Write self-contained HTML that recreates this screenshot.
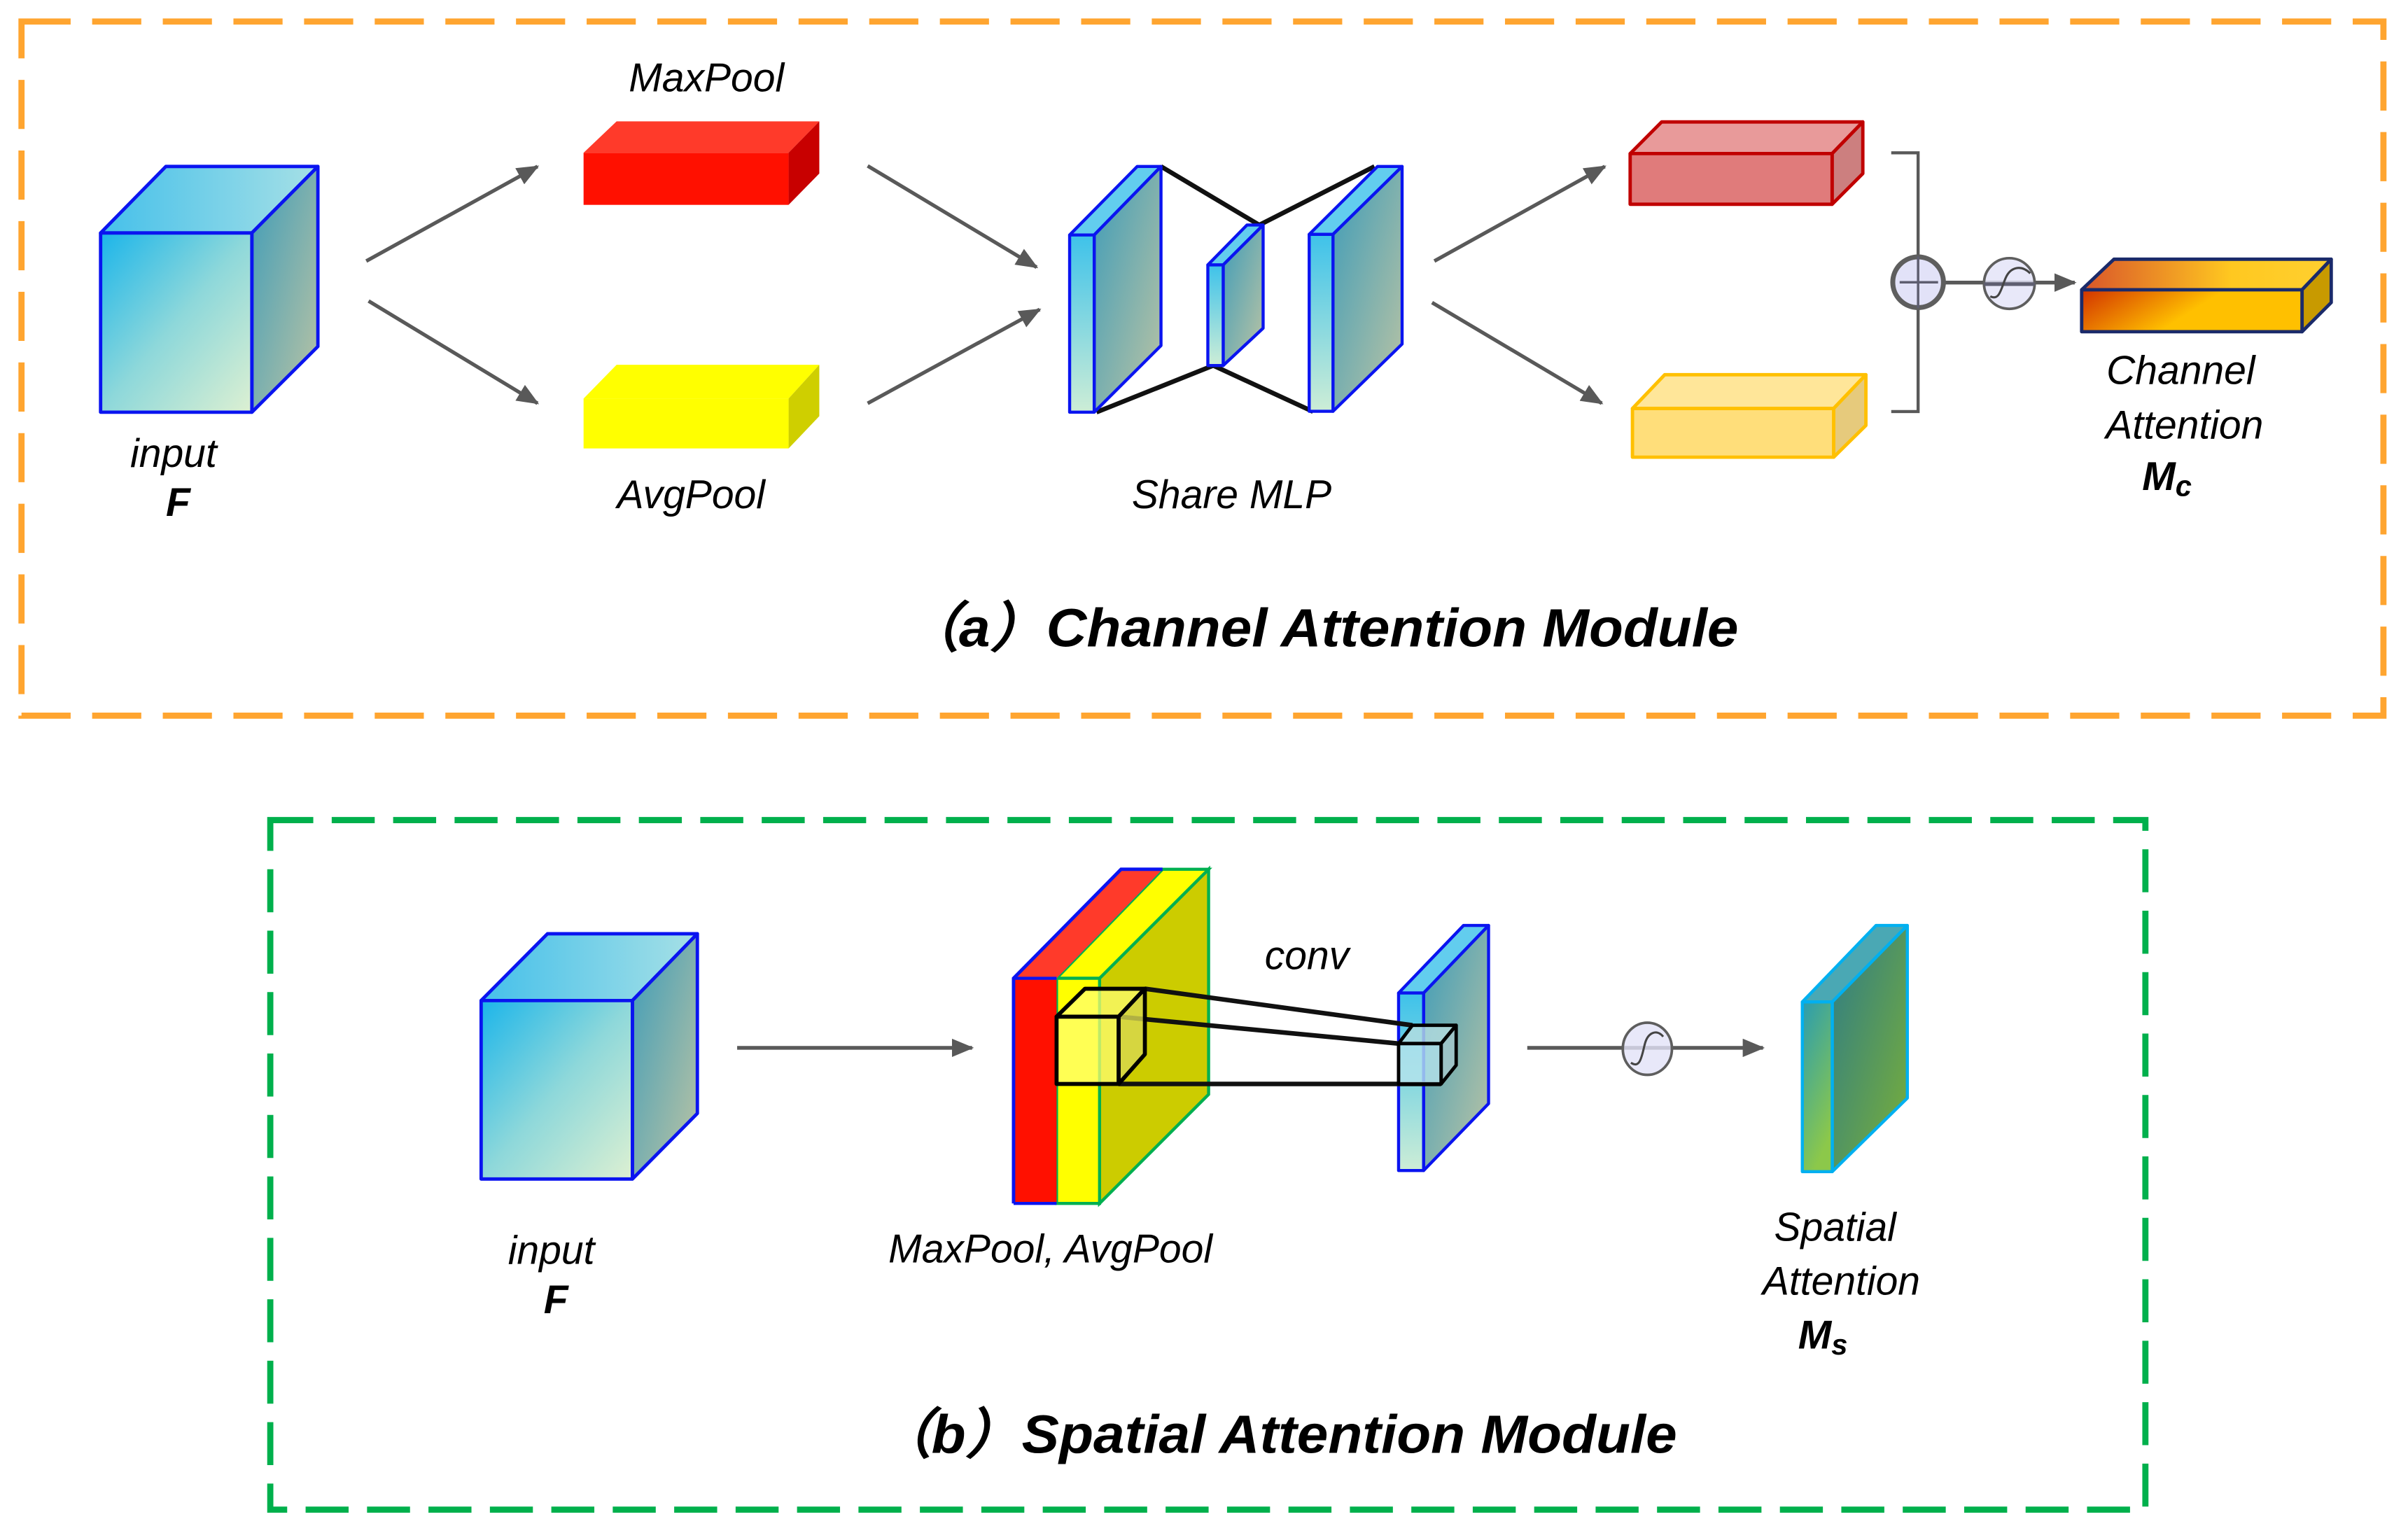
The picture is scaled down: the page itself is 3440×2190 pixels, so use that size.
<!DOCTYPE html>
<html><head><meta charset="utf-8"><style>
html,body{margin:0;padding:0;background:#fff;}
svg{display:block;}
text{font-family:"Liberation Sans",Arial,sans-serif;font-style:italic;fill:#000;}
</style></head><body>
<svg width="3440" height="2190" viewBox="0 0 1568 998.2" preserveAspectRatio="none" xmlns="http://www.w3.org/2000/svg">
<defs>
<linearGradient id="cf" x1="0" y1="0" x2="1" y2="1"><stop offset="0" stop-color="#1BB5EA"/><stop offset="0.5" stop-color="#8ED8DA"/><stop offset="1" stop-color="#DDF0D2"/></linearGradient>
<linearGradient id="ct" x1="0" y1="0" x2="1" y2="0"><stop offset="0" stop-color="#45C0EA"/><stop offset="1" stop-color="#A6E0E6"/></linearGradient>
<linearGradient id="cs" x1="0" y1="0" x2="1" y2="1"><stop offset="0" stop-color="#3E9CB8"/><stop offset="1" stop-color="#BCC4A4"/></linearGradient>
<linearGradient id="pf" x1="0" y1="0" x2="0" y2="1"><stop offset="0" stop-color="#3EC2EA"/><stop offset="1" stop-color="#CDEDD6"/></linearGradient>
<linearGradient id="mf" x1="0" y1="0" x2="1" y2="0.3"><stop offset="0" stop-color="#D23200"/><stop offset="0.6" stop-color="#FFC000"/><stop offset="1" stop-color="#FFC000"/></linearGradient>
<linearGradient id="mt" x1="0" y1="0" x2="1" y2="0"><stop offset="0" stop-color="#D9552A"/><stop offset="0.6" stop-color="#FFC820"/><stop offset="1" stop-color="#FFD030"/></linearGradient>
<linearGradient id="sf" x1="0" y1="0" x2="0.4" y2="1"><stop offset="0" stop-color="#2A9CB0"/><stop offset="1" stop-color="#8CC84A"/></linearGradient>
<linearGradient id="ss" x1="0" y1="0" x2="1" y2="1"><stop offset="0" stop-color="#2E7C86"/><stop offset="1" stop-color="#7AB038"/></linearGradient>
<marker id="ar" markerWidth="6" markerHeight="5" refX="5.5" refY="2.5" orient="auto" markerUnits="strokeWidth"><path d="M0,0 L6,2.5 L0,5 Z" fill="#595959"/></marker>
</defs>

<!-- borders -->
<rect x="14" y="14" width="1538" height="452" fill="none" stroke="#FFA530" stroke-width="4" stroke-dasharray="32,14"/>
<rect x="176" y="534" width="1221" height="449" fill="none" stroke="#00B04C" stroke-width="4" stroke-dasharray="28,12"/>

<!-- (a) input cube -->
<g stroke="#0A14F0" stroke-width="2.2" stroke-linejoin="round">
<polygon points="65.5,151.7 108,108.4 207,108.4 164,151.7" fill="url(#ct)"/>
<polygon points="164,151.7 207,108.4 207,225.6 164,268.4" fill="url(#cs)"/>
<rect x="65.5" y="151.7" width="98.5" height="116.7" fill="url(#cf)"/>
</g>
<text x="113" y="304" font-size="26" text-anchor="middle">input</text>
<text x="116" y="336" font-size="26" font-weight="bold" text-anchor="middle">F</text>

<g stroke="#595959" stroke-width="2.4" fill="none" marker-end="url(#ar)">
<line x1="238.5" y1="170" x2="350" y2="108.4"/>
<line x1="240" y1="196" x2="350" y2="262.6"/>
<line x1="565" y1="108" x2="675" y2="174"/>
<line x1="565" y1="262.6" x2="677" y2="201.5"/>
<line x1="934" y1="170" x2="1045" y2="108.4"/>
<line x1="932.5" y1="197" x2="1043" y2="262.6"/>
</g>

<!-- red box -->
<polygon points="380,99.5 401.5,79 533.5,79 513.5,99.5" fill="#FF3A2A"/>
<polygon points="513.5,99.5 533.5,79 533.5,113 513.5,133.4" fill="#C80000"/>
<rect x="380" y="99.5" width="133.5" height="33.9" fill="#FF1000"/>
<text x="460" y="59.5" font-size="26" text-anchor="middle">MaxPool</text>
<!-- yellow box -->
<polygon points="380,259.5 401.5,237.5 533.5,237.5 513.5,259.5" fill="#FFFF00"/>
<polygon points="513.5,259.5 533.5,237.5 533.5,271 513.5,292" fill="#CFCF00"/>
<rect x="380" y="259.5" width="133.5" height="32.5" fill="#FFFF00"/>
<text x="450" y="331" font-size="26" text-anchor="middle">AvgPool</text>

<!-- share MLP -->
<g stroke="#111" stroke-width="3">
<line x1="756" y1="108.4" x2="820" y2="146.5"/>
<line x1="820" y1="146.5" x2="895" y2="108.4"/>
<line x1="714" y1="268.4" x2="790" y2="238"/>
<line x1="790" y1="238" x2="855" y2="268"/>
</g>
<g stroke="#0A14F0" stroke-width="2" stroke-linejoin="round">
<polygon points="696.5,153 740.5,108.4 756,108.4 712.5,153" fill="#62CDEE"/>
<polygon points="712.5,153 756,108.4 756,225 712.5,268.4" fill="url(#cs)"/>
<rect x="696.5" y="153" width="16" height="115.4" fill="url(#pf)"/>
<polygon points="786.5,172.5 812,146.5 822.5,146.5 796.5,172.5" fill="#62CDEE"/>
<polygon points="796.5,172.5 822.5,146.5 822.5,213.7 796.5,238" fill="url(#cs)"/>
<rect x="786.5" y="172.5" width="10" height="65.5" fill="url(#pf)"/>
<polygon points="852.5,152.6 897,108.4 913,108.4 868,152.6" fill="#62CDEE"/>
<polygon points="868,152.6 913,108.4 913,224 868,267.8" fill="url(#cs)"/>
<rect x="852.5" y="152.6" width="15.5" height="115.2" fill="url(#pf)"/>
</g>
<text x="802" y="331" font-size="26" text-anchor="middle">Share MLP</text>

<!-- pink box -->
<g stroke="#C00000" stroke-width="2.2" stroke-linejoin="round">
<polygon points="1061.5,100 1082,79.4 1213,79.4 1193,100" fill="#E89A9A"/>
<polygon points="1193,100 1213,79.4 1213,113 1193,133" fill="#CC7F7F"/>
<rect x="1061.5" y="100" width="131.5" height="33" fill="#E07B7B"/>
</g>
<g stroke="#FFC000" stroke-width="2.2" stroke-linejoin="round">
<polygon points="1063,266 1084,244 1215,244 1194,266" fill="#FFE699"/>
<polygon points="1194,266 1215,244 1215,277 1194,297.7" fill="#E6CA7C"/>
<rect x="1063" y="266" width="131" height="31.7" fill="#FFDE7A"/>
</g>
<!-- bracket -->
<polyline points="1231.5,99.5 1249,99.5 1249,268 1231.5,268" fill="none" stroke="#595959" stroke-width="2"/>
<line x1="1266" y1="184" x2="1351" y2="184" stroke="#595959" stroke-width="2.4" marker-end="url(#ar)"/>
<circle cx="1249" cy="183.8" r="16.5" fill="#E2E2F8" stroke="#5E5E5E" stroke-width="3.2"/>
<line x1="1249" y1="167" x2="1249" y2="200.5" stroke="#5E5E70" stroke-width="1.6"/>
<line x1="1237" y1="183.8" x2="1262" y2="183.8" stroke="#5E5E70" stroke-width="1.6"/>
<circle cx="1308.4" cy="184.6" r="16.5" fill="#E2E2F8" fill-opacity="0.8" stroke="#5E5E5E" stroke-width="1.7"/>
<line x1="1292" y1="185" x2="1325" y2="185" stroke="#5E5E70" stroke-width="2.4"/>
<path d="M1296,193 C1302,196 1303,188 1306,181 C1309,174 1316,172 1322,178" fill="none" stroke="#444" stroke-width="1.4"/>

<!-- Mc box -->
<g stroke="#1A2A6A" stroke-width="2.2" stroke-linejoin="round">
<polygon points="1355.5,188.7 1376.5,168.8 1518,168.8 1499,188.7" fill="url(#mt)"/>
<polygon points="1499,188.7 1518,168.8 1518,197 1499,216" fill="#C89A00"/>
<rect x="1355.5" y="188.7" width="143.5" height="27.3" fill="url(#mf)"/>
</g>
<text x="1420" y="250" font-size="26" text-anchor="middle">Channel</text>
<text x="1422.5" y="285.5" font-size="26" text-anchor="middle">Attention</text>
<text x="1411" y="319" font-size="26" font-weight="bold" text-anchor="middle">M<tspan font-size="19" dy="4">c</tspan></text>

<text x="588" y="421" font-size="35" font-weight="bold" textLength="544" lengthAdjust="spacingAndGlyphs">（a）Channel Attention Module</text>

<!-- (b) input cube -->
<g stroke="#0A14F0" stroke-width="2.2" stroke-linejoin="round">
<polygon points="313.3,651.5 356.5,608 454.1,608 411.8,651.5" fill="url(#ct)"/>
<polygon points="411.8,651.5 454.1,608 454.1,725 411.8,767.7" fill="url(#cs)"/>
<rect x="313.3" y="651.5" width="98.5" height="116.2" fill="url(#cf)"/>
</g>
<text x="359" y="823" font-size="26" text-anchor="middle">input</text>
<text x="362" y="855" font-size="26" font-weight="bold" text-anchor="middle">F</text>
<line x1="480" y1="682.3" x2="633" y2="682.3" stroke="#595959" stroke-width="2.4" marker-end="url(#ar)"/>

<!-- stacked layers -->
<polygon points="716,637 787,566 787,712.6 716,783.6" fill="#CCCC00" stroke="#00B050" stroke-width="2"/>
<polygon points="688,637 757,566 787,566 716,637" fill="#FFFF00" stroke="#00B050" stroke-width="2"/>
<rect x="688" y="637" width="28" height="146.6" fill="#FFFF00" stroke="#00B050" stroke-width="2"/>
<polygon points="660,637 730,566 757,566 688,637" fill="#FF3A2A"/>
<polyline points="660,783.6 660,637 730,566 757,566" fill="none" stroke="#0A14F0" stroke-width="2.2"/>
<rect x="660" y="637" width="28" height="146.6" fill="#FF1000"/>
<line x1="660" y1="637" x2="688" y2="637" stroke="#0A14F0" stroke-width="2"/>
<line x1="660" y1="783.6" x2="688" y2="783.6" stroke="#0A14F0" stroke-width="2"/>
<polyline points="660,783.6 660,637" fill="none" stroke="#0A14F0" stroke-width="2.2"/>

<!-- conv plate -->
<g stroke="#0A14F0" stroke-width="2" stroke-linejoin="round">
<polygon points="910.7,646.6 953,602.6 969.3,602.6 927,646.6" fill="#62CDEE"/>
<polygon points="927,646.6 969.3,602.6 969.3,718.6 927,762.2" fill="url(#cs)"/>
<rect x="910.7" y="646.6" width="16.3" height="115.6" fill="url(#pf)"/>
</g>
<!-- connecting lines -->
<g stroke="#111" stroke-width="3" fill="none">
<line x1="745.5" y1="643.8" x2="919.7" y2="667.6"/>
<line x1="728.4" y1="662" x2="910.7" y2="679.5"/>
<line x1="728.4" y1="705.8" x2="938.4" y2="705.8"/>
</g>
<!-- small cube in stack -->
<g stroke="#000" stroke-width="2.6" stroke-linejoin="round">
<polygon points="688,662 706.5,643.8 745.5,643.8 728.4,662" fill="#FFFF70" fill-opacity="0.75"/>
<polygon points="728.4,662 745.5,643.8 745.5,686.5 728.4,705.8" fill="#D8D850" fill-opacity="0.8"/>
<rect x="688" y="662" width="40.4" height="43.8" fill="#FFFF70" fill-opacity="0.75"/>
</g>
<!-- small cube on conv -->
<g stroke="#000" stroke-width="2.2" stroke-linejoin="round">
<polygon points="910.7,679.5 919.7,667.6 948.2,667.6 938.4,679.5" fill="#B6DDE0" fill-opacity="0.8"/>
<polygon points="938.4,679.5 948.2,667.6 948.2,693.6 938.4,705.8" fill="#A6C8CC" fill-opacity="0.8"/>
<rect x="910.7" y="679.5" width="27.7" height="26.3" fill="#B6E4EC" fill-opacity="0.8"/>
</g>
<text x="851" y="631" font-size="26" text-anchor="middle">conv</text>
<text x="684" y="822" font-size="26" text-anchor="middle">MaxPool, AvgPool</text>

<line x1="994.5" y1="682.3" x2="1148" y2="682.3" stroke="#595959" stroke-width="2.4" marker-end="url(#ar)"/>
<ellipse cx="1072.7" cy="682.9" rx="16" ry="17" fill="#E2E2F8" fill-opacity="0.8" stroke="#5E5E5E" stroke-width="1.7"/>
<path d="M1062,692 C1068,696 1069,688 1071,680 C1073,672 1079,670 1083,675" fill="none" stroke="#444" stroke-width="1.4"/>

<!-- spatial plate -->
<g stroke="#00B0F0" stroke-width="2" stroke-linejoin="round">
<polygon points="1173.6,652.4 1221.6,602.6 1242,602.6 1193.1,652.4" fill="#4AA8B4"/>
<polygon points="1193.1,652.4 1242,602.6 1242,715 1193.1,762.9" fill="url(#ss)"/>
<rect x="1173.6" y="652.4" width="19.5" height="110.5" fill="url(#sf)"/>
</g>
<text x="1195" y="808" font-size="26" text-anchor="middle">Spatial</text>
<text x="1199" y="843" font-size="26" text-anchor="middle">Attention</text>
<text x="1187" y="878" font-size="26" font-weight="bold" text-anchor="middle">M<tspan font-size="19" dy="4">s</tspan></text>

<text x="570" y="946" font-size="35" font-weight="bold" textLength="522" lengthAdjust="spacingAndGlyphs">（b）Spatial Attention Module</text>
</svg>
</body></html>
